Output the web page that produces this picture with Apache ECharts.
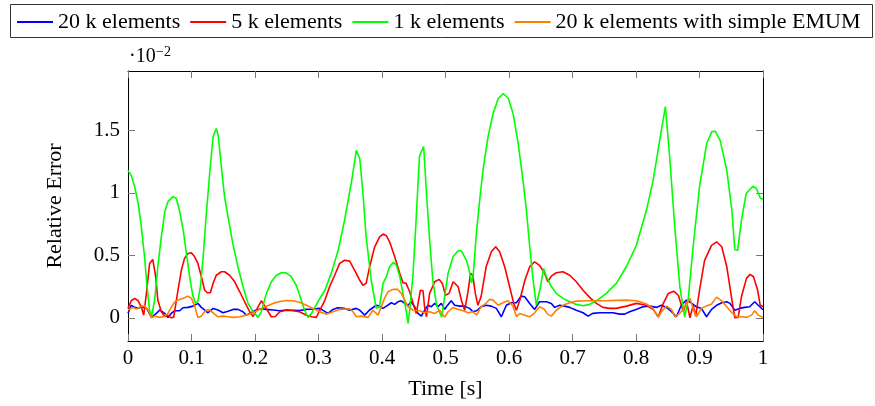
<!DOCTYPE html>
<html>
<head>
<meta charset="utf-8">
<script src="https://cdn.jsdelivr.net/npm/echarts@6/dist/echarts.min.js"></script>
<style>html,body{margin:0;padding:0;background:#fff}#c{width:875px;height:406px}</style>
</head>
<body>
<div id="c"></div>
<script>
// values in units of 1e-2 (axis shows multiplier ·10^-2)
var seriesNames = ['20 k elements', '5 k elements', '1 k elements', '20 k elements with simple EMUM'];
var xTicks = [0, 0.1, 0.2, 0.3, 0.4, 0.5, 0.6, 0.7, 0.8, 0.9, 1];
var yTicks = [0, 0.5, 1, 1.5];

var blue20k = [[0,0.035],[0.005,0.1],[0.0105,0.083],[0.016,0.075],[0.021,0.088],[0.029,0.08],[0.037,0.003],[0.0447,0.035],[0.05,0.062],[0.0578,0.035],[0.063,0.003],[0.068,0.035],[0.0736,0.056],[0.0814,0.056],[0.0866,0.08],[0.0945,0.083],[0.1024,0.093],[0.11,0.115],[0.1155,0.083],[0.1207,0.062],[0.126,0.04],[0.134,0.075],[0.1417,0.062],[0.1496,0.04],[0.1575,0.053],[0.1654,0.067],[0.1733,0.067],[0.181,0.048],[0.1864,0.021],[0.194,0.04],[0.202,0.062],[0.21,0.072],[0.218,0.067],[0.2284,0.062],[0.239,0.056],[0.2494,0.062],[0.26,0.06],[0.27,0.058],[0.281,0.067],[0.292,0.07],[0.302,0.075],[0.315,0.035],[0.3228,0.067],[0.33,0.08],[0.341,0.075],[0.349,0.06],[0.3596,0.075],[0.365,0.06],[0.3727,0.021],[0.38,0.06],[0.391,0.10],[0.396,0.093],[0.4016,0.075],[0.407,0.093],[0.4147,0.12],[0.42,0.107],[0.425,0.128],[0.4304,0.136],[0.4357,0.115],[0.441,0.10],[0.446,0.128],[0.4514,0.088],[0.4567,0.035],[0.462,0.013],[0.467,0.06],[0.4724,0.10],[0.4777,0.088],[0.483,0.115],[0.488,0.088],[0.4934,0.115],[0.4987,0.067],[0.5014,0.088],[0.509,0.136],[0.5145,0.10],[0.5224,0.093],[0.53,0.093],[0.538,0.075],[0.5433,0.048],[0.549,0.056],[0.556,0.088],[0.5643,0.10],[0.572,0.093],[0.58,0.075],[0.588,0.008],[0.5958,0.10],[0.6036,0.12],[0.6117,0.12],[0.619,0.173],[0.6247,0.168],[0.6326,0.115],[0.6404,0.067],[0.648,0.128],[0.6588,0.128],[0.6667,0.115],[0.672,0.083],[0.6797,0.10],[0.6876,0.093],[0.6956,0.083],[0.706,0.06],[0.7166,0.04],[0.7245,0.013],[0.732,0.035],[0.743,0.04],[0.7533,0.04],[0.7638,0.04],[0.774,0.029],[0.7823,0.029],[0.79,0.048],[0.8,0.067],[0.811,0.088],[0.8216,0.093],[0.832,0.083],[0.84,0.10],[0.848,0.083],[0.856,0.048],[0.8636,0.008],[0.8714,0.10],[0.8793,0.141],[0.887,0.12],[0.895,0.088],[0.903,0.075],[0.911,0.008],[0.919,0.067],[0.927,0.10],[0.935,0.12],[0.943,0.128],[0.948,0.115],[0.9555,0.06],[0.9633,0.075],[0.971,0.083],[0.979,0.088],[0.987,0.128],[0.9925,0.10],[1,0.065]];

var red5k = [[0,0.075],[0.005,0.136],[0.0105,0.155],[0.016,0.136],[0.021,0.088],[0.0247,0.02],[0.029,0.195],[0.034,0.435],[0.039,0.467],[0.0436,0.33],[0.047,0.14],[0.0525,0.048],[0.058,0.01],[0.063,0.02],[0.068,0.0],[0.072,0.005],[0.0787,0.22],[0.084,0.38],[0.089,0.475],[0.0945,0.515],[0.0997,0.52],[0.105,0.488],[0.11,0.435],[0.1155,0.33],[0.1207,0.22],[0.125,0.2],[0.1297,0.2],[0.134,0.275],[0.139,0.34],[0.147,0.368],[0.152,0.368],[0.16,0.34],[0.168,0.288],[0.176,0.208],[0.1837,0.128],[0.1916,0.048],[0.197,0.01],[0.203,0.07],[0.21,0.136],[0.217,0.08],[0.2257,0.008],[0.232,0.01],[0.239,0.048],[0.249,0.06],[0.26,0.056],[0.27,0.048],[0.281,0.02],[0.289,0.008],[0.2966,0.003],[0.302,0.06],[0.31,0.14],[0.3176,0.25],[0.3255,0.34],[0.3333,0.435],[0.341,0.46],[0.349,0.453],[0.357,0.38],[0.365,0.30],[0.37,0.26],[0.375,0.275],[0.3806,0.41],[0.3885,0.568],[0.3963,0.648],[0.4016,0.67],[0.407,0.656],[0.412,0.608],[0.42,0.488],[0.428,0.355],[0.433,0.28],[0.438,0.275],[0.4436,0.208],[0.449,0.115],[0.454,0.035],[0.4604,0.22],[0.4646,0.216],[0.467,0.088],[0.47,0.008],[0.475,0.195],[0.483,0.288],[0.49,0.307],[0.495,0.275],[0.5,0.18],[0.5056,0.195],[0.512,0.288],[0.52,0.248],[0.525,0.14],[0.5302,0.06],[0.535,0.195],[0.5395,0.355],[0.543,0.34],[0.547,0.195],[0.551,0.10],[0.556,0.168],[0.564,0.408],[0.5722,0.528],[0.579,0.568],[0.5853,0.528],[0.5932,0.408],[0.601,0.248],[0.6074,0.115],[0.6117,0.06],[0.617,0.14],[0.625,0.30],[0.6326,0.408],[0.6404,0.448],[0.648,0.42],[0.6562,0.355],[0.661,0.288],[0.6667,0.333],[0.6745,0.36],[0.685,0.368],[0.6956,0.34],[0.706,0.288],[0.7166,0.22],[0.727,0.163],[0.7376,0.115],[0.748,0.083],[0.7586,0.075],[0.769,0.075],[0.785,0.093],[0.8006,0.115],[0.8164,0.10],[0.827,0.067],[0.835,0.008],[0.843,0.115],[0.851,0.195],[0.8593,0.213],[0.8667,0.18],[0.8745,0.05],[0.8797,0.128],[0.885,0.0],[0.89,0.10],[0.894,0.013],[0.9,0.22],[0.908,0.46],[0.919,0.58],[0.927,0.608],[0.935,0.568],[0.943,0.408],[0.9503,0.168],[0.9556,0.0],[0.961,0.003],[0.966,0.168],[0.974,0.315],[0.9796,0.347],[0.985,0.328],[0.9916,0.22],[0.9956,0.10],[1,0.09]];

var green1k = [[0,1.18],[0.005,1.14],[0.0105,1.05],[0.016,0.915],[0.021,0.73],[0.026,0.49],[0.030,0.25],[0.034,0.06],[0.037,0.01],[0.042,0.14],[0.047,0.41],[0.0525,0.65],[0.058,0.85],[0.063,0.93],[0.071,0.97],[0.076,0.955],[0.081,0.86],[0.087,0.70],[0.092,0.515],[0.097,0.33],[0.102,0.18],[0.1066,0.115],[0.110,0.13],[0.114,0.25],[0.118,0.46],[0.123,0.81],[0.1286,1.155],[0.134,1.45],[0.139,1.515],[0.142,1.46],[0.147,1.21],[0.152,0.97],[0.1575,0.81],[0.165,0.595],[0.173,0.41],[0.181,0.25],[0.189,0.115],[0.197,0.048],[0.205,0.003],[0.21,0.05],[0.218,0.195],[0.226,0.29],[0.2336,0.34],[0.2415,0.36],[0.249,0.36],[0.257,0.33],[0.265,0.26],[0.273,0.14],[0.278,0.06],[0.2835,0.003],[0.289,0.035],[0.299,0.128],[0.31,0.22],[0.32,0.355],[0.331,0.54],[0.341,0.78],[0.352,1.09],[0.3596,1.34],[0.365,1.275],[0.37,0.995],[0.375,0.65],[0.383,0.30],[0.391,0.075],[0.396,0.088],[0.4016,0.275],[0.407,0.33],[0.412,0.41],[0.418,0.443],[0.4226,0.42],[0.428,0.33],[0.433,0.195],[0.437,0.09],[0.441,-0.045],[0.4436,0.06],[0.449,0.355],[0.454,0.81],[0.459,1.29],[0.462,1.33],[0.4656,1.37],[0.47,1.0],[0.475,0.62],[0.48,0.3],[0.486,0.1],[0.494,0.005],[0.504,0.355],[0.512,0.49],[0.52,0.536],[0.525,0.536],[0.533,0.46],[0.5385,0.355],[0.541,0.28],[0.5435,0.33],[0.5486,0.675],[0.5538,0.94],[0.559,1.18],[0.567,1.45],[0.575,1.635],[0.583,1.755],[0.591,1.795],[0.599,1.755],[0.6064,1.635],[0.6144,1.395],[0.622,1.10],[0.6274,0.86],[0.6326,0.57],[0.638,0.30],[0.643,0.10],[0.6484,0.22],[0.6546,0.395],[0.6588,0.33],[0.6667,0.25],[0.6745,0.195],[0.685,0.155],[0.6956,0.128],[0.706,0.107],[0.7166,0.096],[0.727,0.107],[0.7376,0.136],[0.7533,0.195],[0.769,0.275],[0.785,0.41],[0.8006,0.58],[0.8164,0.86],[0.827,1.10],[0.8373,1.42],[0.8463,1.69],[0.853,1.29],[0.861,0.73],[0.869,0.25],[0.8767,0.008],[0.882,0.14],[0.89,0.57],[0.9,1.05],[0.9114,1.395],[0.9194,1.49],[0.9247,1.493],[0.9325,1.42],[0.943,1.18],[0.951,0.86],[0.9555,0.547],[0.96,0.54],[0.966,0.78],[0.9735,0.995],[0.984,1.053],[0.9897,1.035],[0.996,0.955],[1,0.95]];

var orange20kEmum = [[0,0.062],[0.008,0.083],[0.013,0.07],[0.021,0.093],[0.026,0.093],[0.0315,0.062],[0.037,0.0],[0.042,0.013],[0.05,0.003],[0.0578,0.013],[0.063,0.035],[0.068,0.083],[0.0736,0.128],[0.0814,0.147],[0.089,0.16],[0.0945,0.173],[0.1,0.155],[0.105,0.093],[0.11,0.003],[0.1155,0.013],[0.1207,0.048],[0.126,0.067],[0.134,0.04],[0.1417,0.008],[0.1496,0.013],[0.1575,0.008],[0.1654,0.003],[0.1758,0.008],[0.186,0.021],[0.197,0.04],[0.2074,0.067],[0.218,0.093],[0.2284,0.115],[0.239,0.13],[0.2494,0.138],[0.26,0.136],[0.27,0.124],[0.281,0.10],[0.2913,0.075],[0.302,0.048],[0.3123,0.029],[0.3228,0.048],[0.3333,0.067],[0.349,0.072],[0.3543,0.048],[0.3596,0.008],[0.3675,0.013],[0.378,0.003],[0.3858,0.06],[0.3937,0.021],[0.399,0.088],[0.404,0.155],[0.4094,0.208],[0.4173,0.227],[0.425,0.227],[0.4304,0.195],[0.4357,0.141],[0.441,0.088],[0.449,0.06],[0.4593,0.056],[0.467,0.04],[0.475,0.048],[0.483,0.035],[0.491,0.06],[0.4987,0.005],[0.504,0.048],[0.512,0.083],[0.52,0.067],[0.5277,0.056],[0.5355,0.04],[0.5433,0.048],[0.549,0.021],[0.556,0.088],[0.5643,0.12],[0.5695,0.147],[0.575,0.141],[0.583,0.10],[0.5905,0.12],[0.5985,0.136],[0.6064,0.093],[0.6117,0.008],[0.617,0.035],[0.625,0.021],[0.6326,0.008],[0.6404,0.04],[0.648,0.088],[0.655,0.07],[0.661,0.029],[0.6667,0.013],[0.6745,0.06],[0.685,0.10],[0.6956,0.12],[0.706,0.133],[0.722,0.136],[0.7376,0.136],[0.7533,0.136],[0.769,0.139],[0.785,0.141],[0.8006,0.136],[0.8164,0.11],[0.827,0.075],[0.835,0.003],[0.84,0.048],[0.848,0.093],[0.856,0.067],[0.861,0.008],[0.869,0.035],[0.877,0.088],[0.885,0.155],[0.89,0.075],[0.895,0.008],[0.903,0.075],[0.911,0.095],[0.919,0.11],[0.927,0.165],[0.935,0.135],[0.943,0.088],[0.951,0.04],[0.959,0.008],[0.966,0.008],[0.974,0.003],[0.982,0.021],[0.987,0.056],[0.9925,0.021],[1,0.003]];

var colors = ['#0000ff', '#ff0000', '#00ff00', '#ff8000'];
var allData = [blue20k, red5k, green1k, orange20kEmum];

var FONT = 'Liberation Serif';
var chart = echarts.init(document.getElementById('c'));

var series = allData.map(function (d, i) {
  return {
    name: seriesNames[i], type: 'line', data: d, xAxisIndex: 0, yAxisIndex: 0,
    showSymbol: false, symbol: 'none', smooth: false, animation: false,
    lineStyle: { color: colors[i], width: 1.6 }, itemStyle: { color: colors[i] }
  };
});

var tickStyle = { show: true, inside: true, length: 7, lineStyle: { color: '#777', width: 1 } };

chart.setOption({
  animation: false,
  grid: { left: 128, right: 112, top: 71, bottom: 65, containLabel: false },
  legend: {
    left: 17, top: 11, padding: 0, itemGap: 10, itemWidth: 36, itemHeight: 2,
    icon: 'rect',
    data: seriesNames,
    textStyle: { fontFamily: FONT, fontSize: 22, color: '#000' }
  },
  xAxis: [{
    type: 'value', min: 0, max: 1, interval: 0.1, position: 'bottom',
    name: 'Time [s]', nameLocation: 'middle', nameGap: 37,
    nameTextStyle: { fontFamily: FONT, fontSize: 22, color: '#000' },
    axisLine: { onZero: false, lineStyle: { color: '#000', width: 1 } },
    axisTick: tickStyle,
    splitLine: { show: false },
    axisLabel: { fontFamily: FONT, fontSize: 21, color: '#000', margin: 7,
      customValues: xTicks, formatter: function (v) { return String(+v.toFixed(1)); } }
  }, {
    type: 'value', min: 0, max: 1, interval: 0.1, position: 'top',
    axisLine: { onZero: false, lineStyle: { color: '#000', width: 1 } },
    axisTick: tickStyle, axisLabel: { show: false }, splitLine: { show: false }
  }],
  yAxis: [{
    type: 'value', min: -0.186, max: 1.975, position: 'left',
    name: 'Relative Error', nameLocation: 'middle', nameGap: 62, nameRotate: 90,
    nameTextStyle: { fontFamily: FONT, fontSize: 22, color: '#000' },
    axisLine: { show: true, onZero: false, lineStyle: { color: '#000', width: 1 } },
    axisTick: { show: true, inside: true, length: 7, customValues: yTicks, lineStyle: { color: '#777', width: 1 } },
    splitLine: { show: false },
    axisLabel: { fontFamily: FONT, fontSize: 21, color: '#000', margin: 8, customValues: yTicks }
  }, {
    type: 'value', min: -0.186, max: 1.975, position: 'right',
    axisLine: { show: true, onZero: false, lineStyle: { color: '#000', width: 1 } },
    axisTick: { show: true, inside: true, length: 7, customValues: yTicks, lineStyle: { color: '#777', width: 1 } },
    splitLine: { show: false }, axisLabel: { show: false }
  }],
  graphic: [
    { type: 'rect', shape: { x: 10.5, y: 4.5, width: 862, height: 33 }, style: { fill: 'none', stroke: '#333', lineWidth: 1 }, silent: true },
    { type: 'text', x: 129, y: 57, style: { text: '·10', fontFamily: FONT, fontSize: 20, fill: '#000', verticalAlign: 'middle', align: 'left' }, silent: true },
    { type: 'text', x: 156, y: 52, style: { text: '−2', fontFamily: FONT, fontSize: 14, fill: '#000', verticalAlign: 'middle', align: 'left' }, silent: true }
  ],
  series: series
});
</script>
</body>
</html>
